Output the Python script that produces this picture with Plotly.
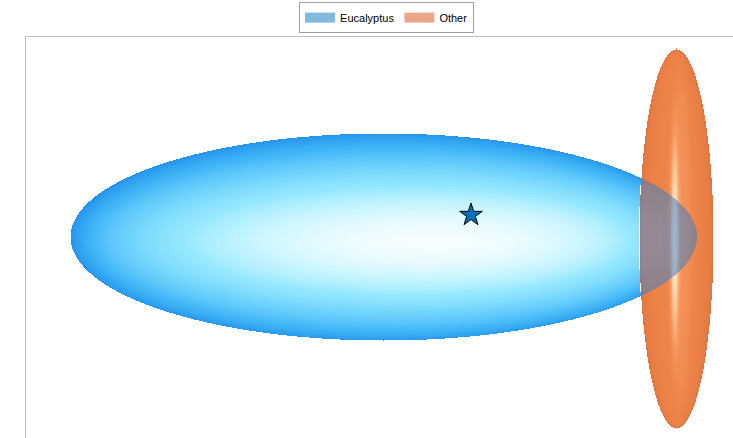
import numpy as np
import plotly.graph_objects as go

# ---- data (axis units) ----
SERIES = ["Eucalyptus", "Other"]
LEGEND_COLORS = ["rgb(128,184,222)", "rgb(236,166,140)"]
BLUE_CENTER = [3.575, 2.01]
BLUE_RADII = [3.13, 1.035]
ORANGE_CENTER = [6.50, 1.995]
ORANGE_RADII = [0.37, 1.895]
STAR_POINT = [4.45, 2.23]
X_RANGE = [0, 7.07]
Y_RANGE = [0, 4.01]

STEP = 0.01


def grid(x0, x1, y0, y1):
    xs = np.arange(x0, x1 + STEP / 2, STEP)
    ys = np.arange(y0, y1 + STEP / 2, STEP)
    X, Y = np.meshgrid(xs, ys)
    return xs, ys, X, Y


def blue_field(X, Y):
    u = (X - BLUE_CENTER[0]) / BLUE_RADII[0]
    v = (Y - BLUE_CENTER[1]) / BLUE_RADII[1]
    r2 = u ** 2 + v ** 2
    inside = r2 <= 1
    w = np.sqrt(np.clip(1 - r2, 0, 1))
    n = np.stack([u * 0.6, v, w])
    n = n / np.maximum(np.linalg.norm(n, axis=0), 1e-9)
    L = np.array([0.1, -0.05, 1.0]); L = L / np.linalg.norm(L)
    d = np.clip(np.tensordot(L, n, axes=1), 0, 1)
    return np.where(inside, d, np.nan), inside


def orange_field(X, Y):
    u = (X - ORANGE_CENTER[0]) / ORANGE_RADII[0]
    v = (Y - ORANGE_CENTER[1]) / ORANGE_RADII[1]
    r2 = u ** 2 + v ** 2
    inside = r2 <= 1
    w = np.sqrt(np.clip(1 - r2, 0, 1))
    k = ORANGE_RADII[0] / ORANGE_RADII[1]
    n = np.stack([u, v * k, w])
    n = n / np.maximum(np.linalg.norm(n, axis=0), 1e-9)
    d = np.clip(n[2], 0, 1)
    H = np.array([-0.05, 0.0, 1.0]); H = H / np.linalg.norm(H)
    s = np.clip(np.tensordot(H, n, axes=1), 0, 1) ** 180
    H2 = np.array([0.2, 0.0, 1.0]); H2 = H2 / np.linalg.norm(H2)
    s2 = np.clip(np.tensordot(H2, n, axes=1), 0, 1) ** 20
    t = 0.6 * d ** 0.25 + 0.06 * s2 + 0.36 * s
    return np.where(inside, np.clip(t, 0, 1), np.nan), inside


BLUE_SCALE = [
    [0.0, "rgb(35,145,235)"], [0.3, "rgb(50,165,242)"], [0.5, "rgb(70,185,248)"],
    [0.7, "rgb(110,210,252)"], [0.85, "rgb(150,232,255)"], [0.95, "rgb(210,247,255)"],
    [1.0, "rgb(245,253,255)"],
]
BLUE_OVERLAP_SCALE = [
    [0.0, "rgb(60,120,190)"], [0.6, "rgb(72,135,200)"], [1.0, "rgb(85,155,225)"],
]
ORANGE_SCALE = [
    [0.0, "rgb(200,90,40)"], [0.3, "rgb(220,110,55)"], [0.6, "rgb(238,132,74)"],
    [0.7, "rgb(247,155,98)"], [0.85, "rgb(255,205,155)"], [1.0, "rgb(255,248,225)"],
]

fig = go.Figure()

# orange ellipsoid
ox0 = ORANGE_CENTER[0] - ORANGE_RADII[0]; ox1 = ORANGE_CENTER[0] + ORANGE_RADII[0]
oy0 = ORANGE_CENTER[1] - ORANGE_RADII[1]; oy1 = ORANGE_CENTER[1] + ORANGE_RADII[1]
xs, ys, X, Y = grid(ox0, ox1, oy0, oy1)
zo, _ = orange_field(X, Y)
fig.add_trace(go.Heatmap(x=xs, y=ys, z=np.round(zo, 3), colorscale=ORANGE_SCALE,
                         zmin=0, zmax=1, showscale=False, hoverinfo="skip"))

# blue ellipsoid, outside overlap (opaque)
bx0 = BLUE_CENTER[0] - BLUE_RADII[0]; bx1 = BLUE_CENTER[0] + BLUE_RADII[0]
by0 = BLUE_CENTER[1] - BLUE_RADII[1]; by1 = BLUE_CENTER[1] + BLUE_RADII[1]
xs, ys, X, Y = grid(bx0, bx1, by0, by1)
zb, _ = blue_field(X, Y)
_, o_in = orange_field(X, Y)
fig.add_trace(go.Heatmap(x=xs, y=ys, z=np.round(np.where(o_in, np.nan, zb), 3),
                         colorscale=BLUE_SCALE, zmin=0, zmax=1, showscale=False,
                         hoverinfo="skip"))

# blue ellipsoid, overlap (semi-transparent)
xs, ys, X, Y = grid(ox0, bx1, by0, by1)
zb, _ = blue_field(X, Y)
_, o_in = orange_field(X, Y)
fig.add_trace(go.Heatmap(x=xs, y=ys, z=np.round(np.where(o_in, zb, np.nan), 3),
                         colorscale=BLUE_OVERLAP_SCALE, zmin=0, zmax=1, showscale=False,
                         opacity=0.55, hoverinfo="skip"))

# star
fig.add_trace(go.Scatter(x=[STAR_POINT[0]], y=[STAR_POINT[1]], mode="markers",
                         marker=dict(symbol="star", size=17, color="rgb(0,114,189)",
                                     line=dict(color="black", width=1)),
                         showlegend=False, hoverinfo="skip"))

# legend entries
for name, col in zip(SERIES, LEGEND_COLORS):
    fig.add_trace(go.Scatter(x=[None], y=[None], mode="lines",
                             line=dict(width=11, color=col), name=name))

fig.update_layout(
    width=733, height=438,
    margin=dict(l=26, r=0, t=37, b=0),
    plot_bgcolor="white", paper_bgcolor="white",
    font=dict(family="Liberation Sans, Arial, sans-serif", size=11, color="black"),
    showlegend=True,
    legend=dict(orientation="h", x=0.51, xanchor="center", y=1.087, yanchor="top",
                bordercolor="rgb(160,160,160)", borderwidth=1, bgcolor="white",
                itemwidth=30, font=dict(size=11)),
    xaxis=dict(range=X_RANGE, side="top", showline=True, linecolor="rgb(190,190,190)",
               linewidth=1, showgrid=False, zeroline=False, showticklabels=False,
               ticks="", fixedrange=True),
    yaxis=dict(range=Y_RANGE, showline=True, linecolor="rgb(190,190,190)", linewidth=1,
               showgrid=False, zeroline=False, showticklabels=False, ticks="",
               fixedrange=True),
)

fig.write_html("out.html")
